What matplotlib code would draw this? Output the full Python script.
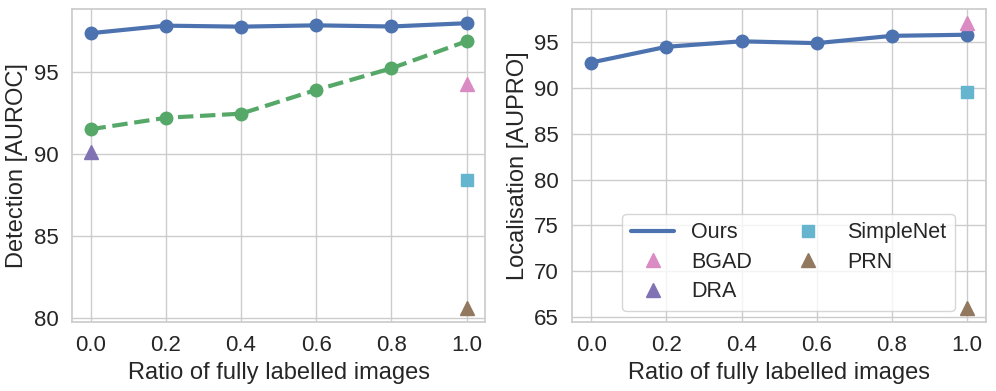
import matplotlib
matplotlib.use("Agg")
import matplotlib.pyplot as plt
import seaborn as sns

# ============================================================
# DATA
# ============================================================

ratios = [0.0, 0.2, 0.4, 0.6, 0.8, 1.0]

ours_auroc = [97.36, 97.82, 97.76, 97.84, 97.77, 97.97]
base_auroc = [91.5, 92.2, 92.45, 93.9, 95.22, 96.87]
ours_aupro = [92.8, 94.52, 95.12, 94.92, 95.72, 95.84]

# single-point baselines: (x, auroc, aupro)
bgad = (1.0, 94.27, 97.1)
dra = (0.0, 90.1, None)
simplenet = (1.0, 88.38, 89.55)
prn = (1.0, 80.62, 66.0)

# ============================================================
# STYLE
# ============================================================

sns.set_theme(style="whitegrid")
pal = sns.color_palette("deep")
plt.rcParams["font.family"] = ["Arial", "Liberation Sans", "DejaVu Sans"]

fig, axes = plt.subplots(1, 2, figsize=(9.96, 3.91), dpi=100)
fig.subplots_adjust(left=0.072, right=0.99, top=0.977, bottom=0.177, wspace=0.21)

ms = 9
lw = 3
fs_lab = 17
fs_tick = 16

# ============================================================
# LEFT: DETECTION
# ============================================================

ax = axes[0]
ax.plot(ratios, ours_auroc, color=pal[0], lw=lw, marker="o", ms=ms, label="Ours")
ax.plot(ratios, base_auroc, color=pal[2], lw=lw, ls="--", marker="o", ms=ms)
ax.plot(bgad[0], bgad[1], "^", color=pal[6], ms=ms + 1, label="BGAD")
ax.plot(dra[0], dra[1], "^", color=pal[4], ms=ms + 1, label="DRA")
ax.plot(simplenet[0], simplenet[1], "s", color=pal[9], ms=ms, label="SimpleNet")
ax.plot(prn[0], prn[1], "^", color=pal[5], ms=ms + 1, label="PRN")
ax.set_yticks([80, 85, 90, 95])
ax.set_ylabel("Detection [AUROC]", fontsize=fs_lab)
ax.set_xlabel("Ratio of fully labelled images", fontsize=fs_lab)

# ============================================================
# RIGHT: LOCALISATION
# ============================================================

ax = axes[1]
ax.plot(ratios, ours_aupro, color=pal[0], lw=lw, marker="o", ms=ms, label="Ours")
ax.plot(bgad[0], bgad[2], "^", color=pal[6], ms=ms + 1, label="BGAD")
ax.plot([], [], "^", color=pal[4], ms=ms + 1, label="DRA")
ax.plot(simplenet[0], simplenet[2], "s", color=pal[9], ms=ms, label="SimpleNet")
ax.plot(prn[0], prn[2], "^", color=pal[5], ms=ms + 1, label="PRN")
ax.set_yticks([65, 70, 75, 80, 85, 90, 95])
ax.set_ylabel("Localisation [AUPRO]", fontsize=fs_lab)
ax.set_xlabel("Ratio of fully labelled images", fontsize=fs_lab)

handles, labels = ax.get_legend_handles_labels()
handles[0] = plt.Line2D([], [], color=pal[0], lw=lw)
ax.legend(handles, labels, ncol=2, fontsize=15.5, loc="lower left",
          bbox_to_anchor=(0.095, 0.0), frameon=True, columnspacing=1.6,
          labelspacing=0.4)

for ax in axes:
    ax.set_xticks(ratios)
    ax.tick_params(labelsize=fs_tick)

plt.savefig("out.png")
